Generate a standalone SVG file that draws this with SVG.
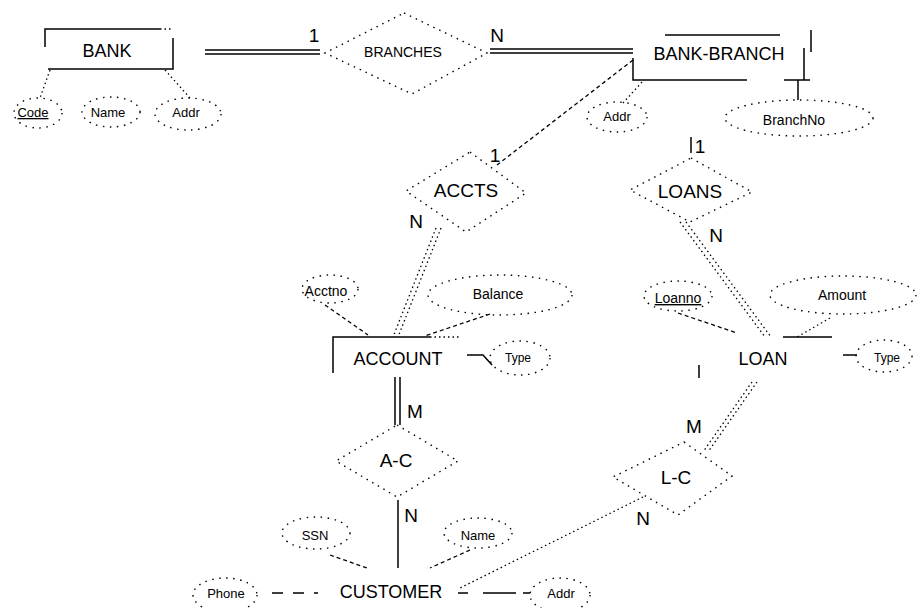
<svg xmlns="http://www.w3.org/2000/svg" width="918" height="608" viewBox="0 0 918 608">
  <style>
    text{font-family:"Liberation Sans",Arial,sans-serif;fill:#000;text-anchor:middle}
    .big{font-size:18px}
    .rel{font-size:19px}
    .sm{font-size:13px}
    .card{font-size:19px}
    .ent{fill:none;stroke:#000;stroke-width:1.5}
    .dia{fill:none;stroke:#000;stroke-width:1.4;stroke-dasharray:1.5 5}
    .att{fill:none;stroke:#000;stroke-width:1.4;stroke-dasharray:1.5 5.5}
    .solid{fill:none;stroke:#000;stroke-width:1.5}
    .dash{fill:none;stroke:#000;stroke-width:1.3;stroke-dasharray:4 3}
    .dot{fill:none;stroke:#000;stroke-width:1.3;stroke-dasharray:1.5 3}
    .key{text-decoration:underline}
  </style>
  <rect width="918" height="608" fill="#fff"/>

  <!-- connectors -->
  <g id="connectors">
    <!-- BANK = BRANCHES = BANK-BRANCH -->
    <path class="solid" d="M205,50 H320 M205,54 H320"/>
    <text class="card" x="314" y="42">1</text>
    <path class="solid" d="M490,49 H633 M490,53 H633"/>
    <text class="card" x="497" y="42">N</text>
    <!-- BANK-BRANCH - ACCTS = ACCOUNT -->
    <path class="dash" d="M633,60 L497,165"/>
    <text class="card" x="495" y="162">1</text>
    <path class="dot" d="M436,228 L393,337 M441,228 L398,337"/>
    <text class="card" x="416" y="228">N</text>
    <!-- BANK-BRANCH - LOANS = LOAN -->
    <path class="solid" d="M691,137 V153"/>
    <text class="card" x="700" y="153">1</text>
    <path class="dot" d="M680,222 L765,337 M686,222 L771,337"/>
    <text class="card" x="716" y="242">N</text>
    <!-- ACCOUNT = A-C - CUSTOMER -->
    <path class="solid" d="M395,377 V425 M400,377 V425"/>
    <text class="card" x="415" y="418">M</text>
    <path class="solid" d="M398,500 V568"/>
    <text class="card" x="411" y="522">N</text>
    <!-- LOAN = L-C - CUSTOMER -->
    <path class="dot" d="M752,382 L703,452 M757,382 L708,452"/>
    <text class="card" x="694" y="433">M</text>
    <path class="dot" d="M643,497 L460,588"/>
    <text class="card" x="643" y="525">N</text>
    <!-- attribute links -->
    <path class="dot" d="M50,70 L40,98"/>
    <path class="dot" d="M165,70 L190,98"/>
    <path class="dot" d="M642,82 L623,103"/>
    <path class="solid" d="M784,80 H810 M798,80 V100"/>
    <path class="dash" d="M325,305 L368,335"/>
    <path class="dash" d="M490,314 L425,336"/>
    <path class="solid" d="M467,355 H483 L492,365"/>
    <path class="dash" d="M678,313 L737,333"/>
    <path class="dot" d="M830,318 L797,337"/>
    <path class="solid" d="M843,355 H857"/>
    <path class="dash" d="M330,555 L367,568"/>
    <path class="dash" d="M470,550 L430,568"/>
    <path class="solid" d="M272,593 H318" stroke-dasharray="11 10"/>
    <path class="solid" d="M458,593 H530" stroke-dasharray="10 15 33 7"/>
  </g>

  <!-- entities -->
  <g id="bank">
    <path class="ent" d="M45,47 V29 H160 M173,38 V69 H48"/>
    <path class="dot" d="M160,29 H173"/>
    <text class="big" x="107" y="57">BANK</text>
  </g>
  <g id="bank-branch">
    <path class="ent" d="M665,35 H780 M633,58 V80 H747 M804,48 V80 M811,30 V52"/>
    <text class="big" x="719" y="60">BANK-BRANCH</text>
  </g>
  <g id="account">
    <path class="ent" d="M333,373 V337 H430"/>
    <path class="dot" d="M430,337 H460"/>
    <text class="big" x="398" y="365">ACCOUNT</text>
  </g>
  <g id="loan">
    <path class="ent" d="M783,337 H832 M699,365 V378"/>
    <text class="big" x="763" y="365">LOAN</text>
  </g>
  <g id="customer">
    <text class="big" x="391" y="598">CUSTOMER</text>
  </g>

  <!-- relationships -->
  <g id="branches">
    <polygon class="dia" points="404,13 487,53 412,94 325,53"/>
    <text x="403" y="57" font-size="14">BRANCHES</text>
  </g>
  <g id="accts">
    <polygon class="dia" points="470,152 526,193 466,232 406,191"/>
    <text class="rel" x="466" y="197">ACCTS</text>
  </g>
  <g id="loans">
    <polygon class="dia" points="691,158 752,192 690,222 630,190"/>
    <text class="rel" x="690" y="198">LOANS</text>
  </g>
  <g id="a-c">
    <polygon class="dia" points="397,425 458,461 397,497 336,461"/>
    <text class="rel" x="396" y="467">A-C</text>
  </g>
  <g id="l-c">
    <polygon class="dia" points="684,442 732,476 678,515 613,477"/>
    <text class="rel" x="676" y="484">L-C</text>
  </g>

  <!-- attributes -->
  <g id="bank-code">
    <ellipse class="att" cx="38" cy="113" rx="24" ry="15"/>
    <text class="sm key" x="33" y="117">Code</text>
  </g>
  <g id="bank-name">
    <ellipse class="att" cx="111" cy="112" rx="29" ry="15"/>
    <text class="sm" x="108" y="117">Name</text>
  </g>
  <g id="bank-addr">
    <ellipse class="att" cx="188" cy="114" rx="33" ry="16"/>
    <text class="sm" x="186" y="117">Addr</text>
  </g>
  <g id="branch-addr">
    <ellipse class="att" cx="617" cy="117" rx="30" ry="15"/>
    <text class="sm" x="617" y="121">Addr</text>
  </g>
  <g id="branch-no">
    <ellipse class="att" cx="799" cy="118" rx="74" ry="18"/>
    <text x="794" y="125" font-size="14">BranchNo</text>
  </g>
  <g id="account-no">
    <ellipse class="att" cx="330" cy="289" rx="28" ry="14"/>
    <text x="326" y="296" font-size="14">Acctno</text>
  </g>
  <g id="account-balance">
    <ellipse class="att" cx="500" cy="295" rx="72" ry="20"/>
    <text x="498" y="299" font-size="14">Balance</text>
  </g>
  <g id="account-type">
    <ellipse class="att" cx="520" cy="358" rx="30" ry="17"/>
    <text x="518" y="362" font-size="12">Type</text>
  </g>
  <g id="loan-no">
    <ellipse class="att" cx="678" cy="296" rx="34" ry="15"/>
    <text class="key" x="678" y="303" font-size="14">Loanno</text>
  </g>
  <g id="loan-amount">
    <ellipse class="att" cx="843" cy="295" rx="73" ry="19"/>
    <text x="842" y="300" font-size="14">Amount</text>
  </g>
  <g id="loan-type">
    <ellipse class="att" cx="884" cy="356" rx="28" ry="16"/>
    <text x="887" y="362" font-size="12">Type</text>
  </g>
  <g id="customer-ssn">
    <ellipse class="att" cx="316" cy="533" rx="34" ry="16"/>
    <text class="sm" x="315" y="540">SSN</text>
  </g>
  <g id="customer-name">
    <ellipse class="att" cx="478" cy="533" rx="34" ry="15"/>
    <text class="sm" x="478" y="540">Name</text>
  </g>
  <g id="customer-phone">
    <ellipse class="att" cx="225" cy="595" rx="32" ry="17"/>
    <text class="sm" x="226" y="598">Phone</text>
  </g>
  <g id="customer-addr">
    <ellipse class="att" cx="560" cy="595" rx="30" ry="17"/>
    <text class="sm" x="561" y="598">Addr</text>
  </g>
</svg>
